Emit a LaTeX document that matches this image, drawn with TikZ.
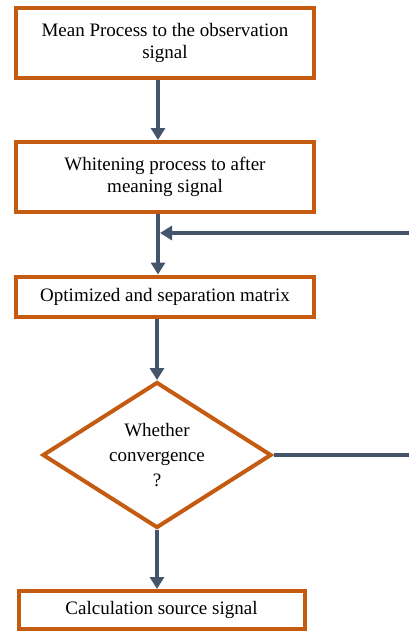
\documentclass[tikz,border=0pt]{standalone}
\usepackage{fontspec}
\setmainfont{Liberation Serif}
\usetikzlibrary{arrows.meta,shapes.geometric}
\definecolor{boxorange}{RGB}{197,90,17}
\definecolor{linegray}{RGB}{68,84,106}
\begin{document}
\begin{tikzpicture}[x=1pt,y=-1pt,
  procbox/.style={draw=boxorange,line width=4pt,fill=white,inner sep=0pt,align=center,font=\fontsize{19}{22}\selectfont},
  decbox/.style={draw=boxorange,line width=4pt,fill=white,diamond,aspect=1.57,inner sep=0pt,align=center,font=\fontsize{19}{25}\selectfont},
  flow/.style={draw=linegray,line width=4pt,-{Triangle[length=12pt,width=14pt]}},
  plainflow/.style={draw=linegray,line width=4pt}]
\useasboundingbox (0,0) rectangle (408,632);
\node[procbox,minimum width=298pt,minimum height=70pt] (b1) at (165,43) {Mean Process to the observation\\signal};
\node[procbox,minimum width=298pt,minimum height=70pt] (b2) at (165,177) {Whitening process to after\\meaning signal};
\node[procbox,minimum width=298pt,minimum height=40pt] (b3) at (165,296.5) {Optimized and separation matrix};
\node[decbox,minimum width=229pt,minimum height=146pt] (d) at (157,455) {Whether\\convergence\\?};
\node[procbox,minimum width=286pt,minimum height=38pt] (b4) at (161.5,610) {Calculation source signal};
\coordinate (j) at (158,233);
\coordinate (fbr) at (410,233);
\coordinate (dr) at (410,455);
\draw[flow] (b1.south -| j) -- (b2.north -| j);
\draw[flow] (b2.south -| j) -- (b3.north -| j);
\draw[flow] (fbr) -- ([xshift=2pt]j);
\draw[flow] (b3.south -| d.north) -- (d.north);
\draw[plainflow] (d.east) -- (dr);
\draw[flow] (d.south) -- (b4.north -| d.south);
\end{tikzpicture}
\end{document}
